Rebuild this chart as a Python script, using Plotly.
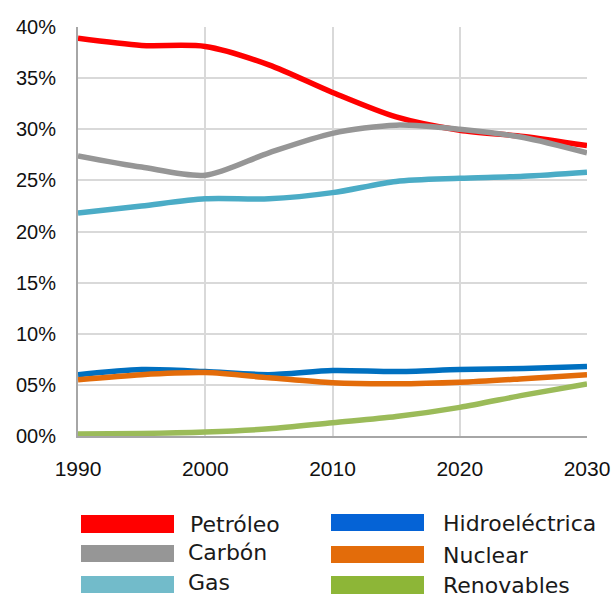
import plotly.graph_objects as go

years = [1990, 1995, 2000, 2005, 2010, 2015, 2020, 2025, 2030]
petroleo = [38.9, 38.2, 38.1, 36.3, 33.6, 31.2, 29.9, 29.3, 28.4]
carbon = [27.4, 26.3, 25.5, 27.7, 29.6, 30.4, 30.0, 29.2, 27.7]
gas = [21.8, 22.5, 23.2, 23.2, 23.8, 24.9, 25.2, 25.4, 25.8]
hidro = [6.0, 6.5, 6.3, 6.0, 6.4, 6.3, 6.5, 6.6, 6.8]
nuclear = [5.5, 6.0, 6.2, 5.7, 5.2, 5.1, 5.25, 5.6, 6.0]
renovables = [0.2, 0.25, 0.4, 0.7, 1.3, 1.9, 2.8, 4.0, 5.1]

names = ["Petróleo", "Carbón", "Gas", "Hidroeléctrica", "Nuclear", "Renovables"]
series = [petroleo, carbon, gas, hidro, nuclear, renovables]
line_colors = ["#FF0000", "#969696", "#4BACC6", "#0070C0", "#E36C0A", "#9BBB59"]
legend_colors = ["#FF0000", "#969696", "#72BBCA", "#0563D6", "#E36C0A", "#8DB637"]

y_ticks = [0, 5, 10, 15, 20, 25, 30, 35, 40]
y_tick_text = ["00%", "05%", "10%", "15%", "20%", "25%", "30%", "35%", "40%"]
x_ticks = [1990, 2000, 2010, 2020, 2030]

TICK_FONT = "Liberation Sans, Arial, sans-serif"
LEG_FONT = "DejaVu Sans"

fig = go.Figure()
for name, vals, col in zip(names, series, line_colors):
    fig.add_trace(go.Scatter(x=years, y=vals, name=name, mode="lines",
                             line=dict(color=col, width=5.5, shape="spline", smoothing=0.8),
                             showlegend=False))

# plot area in pixels
L, R, T, B = 78, 587, 27, 436
W, H = 612, 599

def px(xp):
    return (xp - L) / (R - L)

def py(yp):
    return (B - yp) / (B - T)

# custom legend
leg_pos = [
    (81, 174, 515, 533, 188, 524),
    (81, 174, 545, 562, 186, 552),
    (81, 174, 576, 593, 186, 582),
    (331, 424, 514, 531, 441, 523),
    (331, 424, 546, 563, 441, 555),
    (331, 424, 576, 594, 441, 585),
]
shapes = []
annotations = []
for (x0, x1, y0, y1, tx, ty), name, col in zip(leg_pos, names, legend_colors):
    shapes.append(dict(type="rect", xref="paper", yref="paper",
                       x0=px(x0), x1=px(x1), y0=py(y1), y1=py(y0),
                       fillcolor=col, line=dict(width=0)))
    annotations.append(dict(xref="paper", yref="paper", x=px(tx), y=py(ty),
                            text=name, showarrow=False, xanchor="left", yanchor="middle",
                            font=dict(family=LEG_FONT, size=22, color="#1A1A1A")))

fig.update_layout(
    width=W, height=H,
    margin=dict(l=L, r=W - R, t=T, b=H - B, autoexpand=False),
    paper_bgcolor="white", plot_bgcolor="white",
    shapes=shapes, annotations=annotations,
    font=dict(family=TICK_FONT, size=21, color="#111111"),
    xaxis=dict(range=[1990, 2030], tickvals=x_ticks, showgrid=True, gridcolor="#D9D9D9",
               gridwidth=2, zeroline=False, showline=True, linecolor="#A6A6A6", linewidth=2,
               mirror=False, ticks="", ticklabelstandoff=13, automargin=False,
               ticklabeloverflow="allow",
               tickfont=dict(family=TICK_FONT, size=21, color="#111111")),
    yaxis=dict(range=[0, 40], tickvals=y_ticks, ticktext=y_tick_text, showgrid=True,
               gridcolor="#D9D9D9", gridwidth=2, zeroline=False, showline=True,
               linecolor="#A6A6A6", linewidth=2, ticks="", ticklabelstandoff=16, automargin=False,
               ticklabeloverflow="allow",
               tickfont=dict(family=TICK_FONT, size=20, color="#111111")),
)

fig.write_html("out.html")
